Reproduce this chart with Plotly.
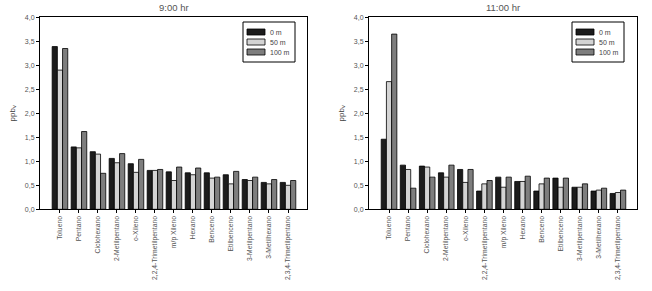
import plotly.graph_objects as go

categories = ["Tolueno", "Pentano", "Ciclohexano", "2-Metilpentano", "o-Xileno",
              "2,2,4-Trimetilpentano", "m/p Xileno", "Hexano", "Benceno",
              "Etilbenceno", "3-Metilpentano", "3-Metilhexano", "2,3,4-Trimetilpentano"]

h9_0m = [3.39, 1.30, 1.20, 1.06, 0.95, 0.81, 0.78, 0.76, 0.76, 0.72, 0.62, 0.56, 0.56]
h9_50m = [2.90, 1.28, 1.15, 0.97, 0.77, 0.81, 0.60, 0.72, 0.65, 0.53, 0.60, 0.53, 0.50]
h9_100m = [3.35, 1.62, 0.75, 1.16, 1.04, 0.83, 0.88, 0.86, 0.67, 0.79, 0.67, 0.62, 0.60]

h11_0m = [1.46, 0.92, 0.90, 0.76, 0.83, 0.38, 0.67, 0.58, 0.38, 0.65, 0.46, 0.38, 0.33]
h11_50m = [2.66, 0.83, 0.88, 0.67, 0.56, 0.53, 0.46, 0.58, 0.53, 0.46, 0.46, 0.40, 0.35]
h11_100m = [3.65, 0.44, 0.67, 0.92, 0.83, 0.60, 0.67, 0.69, 0.65, 0.65, 0.53, 0.44, 0.40]

series_names = ["0 m", "50 m", "100 m"]
colors = ["#1c1c1c", "#d4d4d4", "#7e7e7e"]
y_ticks = [0, 0.5, 1, 1.5, 2, 2.5, 3, 3.5, 4]
y_ticktext = ["0,0", "0,5", "1,0", "1,5", "2,0", "2,5", "3,0", "3,5", "4,0"]
titles = ["9:00 hr", "11:00 hr"]

W, H = 652, 291
FONT = "Liberation Sans, Arial, sans-serif"

fig = go.Figure()
panels = [(h9_0m, h9_50m, h9_100m), (h11_0m, h11_50m, h11_100m)]
for p, data in enumerate(panels):
    xa = "x" if p == 0 else "x2"
    ya = "y" if p == 0 else "y2"
    for name, vals, col in zip(series_names, data, colors):
        fig.add_trace(go.Bar(
            x=categories, y=vals, name=name, xaxis=xa, yaxis=ya, showlegend=False,
            marker=dict(color=col, line=dict(color="#000000", width=0.8)),
        ))

y0 = (H - 209.3) / H
y1 = (H - 17.3) / H
domains = [[40 / W, 307 / W], [369 / W, 637 / W]]

axis_common = dict(showline=True, linecolor="#000000", linewidth=1, mirror=True,
                   showgrid=False, zeroline=False, ticks="outside", ticklen=3,
                   tickcolor="#000000", automargin=False)

layout = dict(
    width=W, height=H, margin=dict(l=0, r=0, t=0, b=0, autoexpand=False),
    paper_bgcolor="white", plot_bgcolor="white",
    barmode="group", bargap=0.18, bargroupgap=0,
    font=dict(family=FONT, size=7, color="#444444"),
    showlegend=False,
)
for p in range(2):
    sx = "" if p == 0 else "2"
    layout["xaxis" + sx] = dict(axis_common, domain=domains[p], anchor="y" + sx,
                                range=[-1.05, 13.0], tickangle=-90,
                                tickfont=dict(size=6.8, color="#555555"),
                                categoryorder="array", categoryarray=categories)
    layout["yaxis" + sx] = dict(axis_common, domain=[y0, y1], anchor="x" + sx,
                                range=[0, 4], tickvals=y_ticks, ticktext=y_ticktext,
                                tickfont=dict(size=7, color="#555555"),
                                title=dict(text="ppb<sub>v</sub>", standoff=8,
                                           font=dict(size=8, color="#444444")))

fig.update_layout(**layout)

def px_x(v):
    return v / W

def px_y(v):
    return (H - v) / H

for p in range(2):
    cx = (domains[p][0] + domains[p][1]) / 2
    fig.add_annotation(text=titles[p], x=cx, y=px_y(7), xref="paper", yref="paper",
                       xanchor="center", yanchor="middle", showarrow=False,
                       font=dict(size=9.5, color="#555555"))
    # manual legend box
    lx0 = domains[p][0] * W + 203
    fig.add_shape(type="rect", xref="paper", yref="paper",
                  x0=px_x(lx0), x1=px_x(lx0 + 52), y0=px_y(62), y1=px_y(22),
                  line=dict(color="#000000", width=1), fillcolor="white")
    for i, (name, col) in enumerate(zip(series_names, colors)):
        cy = 32 + 10 * i
        fig.add_shape(type="rect", xref="paper", yref="paper",
                      x0=px_x(lx0 + 4), x1=px_x(lx0 + 22), y0=px_y(cy + 3), y1=px_y(cy - 3),
                      line=dict(color="#000000", width=0.8), fillcolor=col)
        fig.add_annotation(text=name, x=px_x(lx0 + 25), y=px_y(cy), xref="paper",
                           yref="paper", xanchor="left", yanchor="middle",
                           showarrow=False, font=dict(size=7, color="#444444"))

fig.write_html("out.html", config={"displayModeBar": False},
               post_script="document.body.style.margin='0';document.body.style.overflow='hidden';")
